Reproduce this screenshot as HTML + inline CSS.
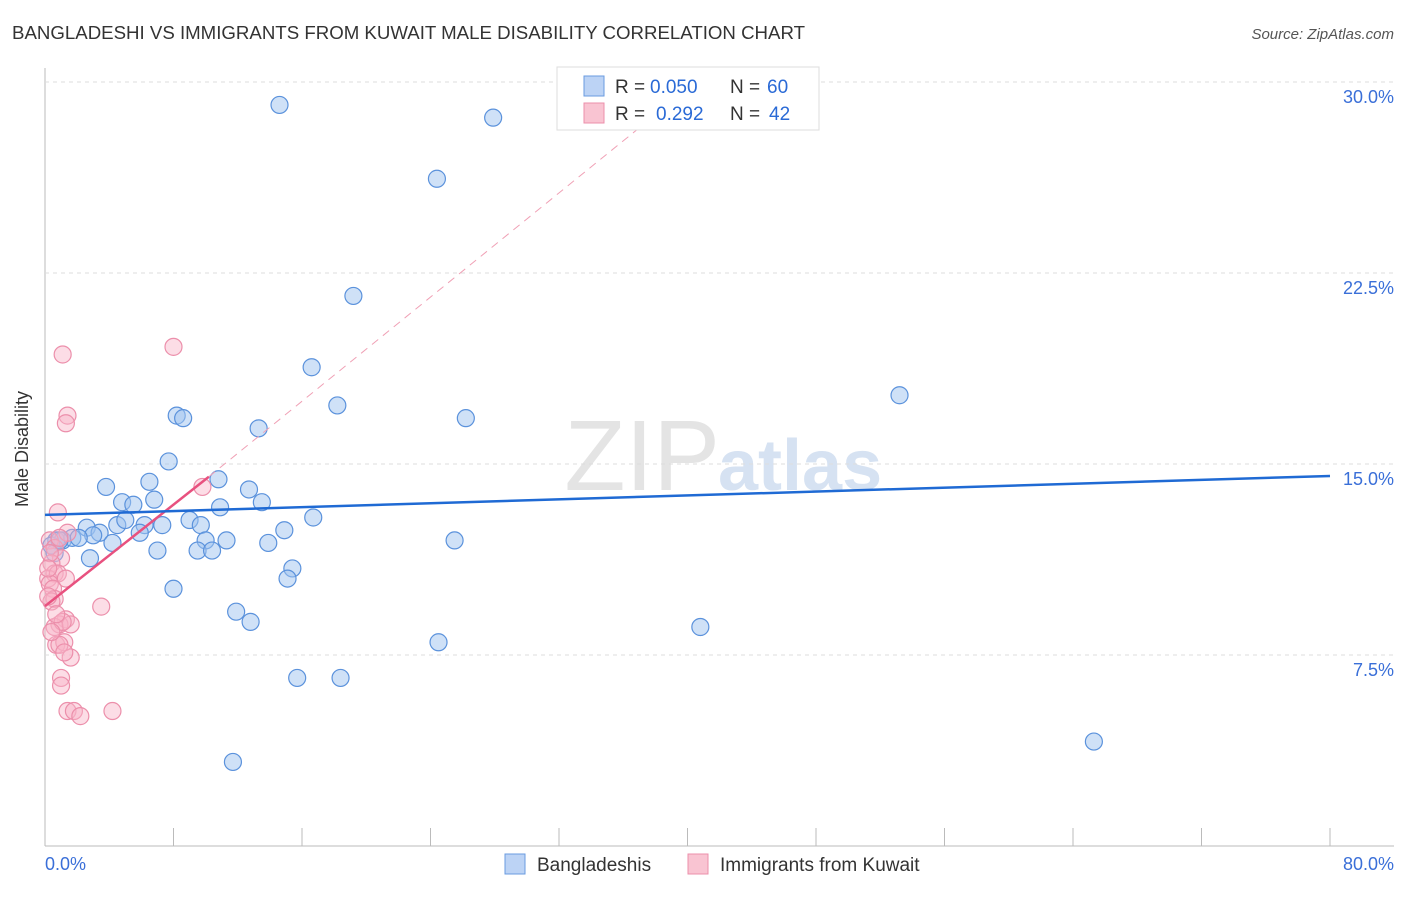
<!DOCTYPE html>
<html><head><meta charset="utf-8"><style>
body{margin:0;background:#fff;font-family:"Liberation Sans",sans-serif;}
svg text{font-family:"Liberation Sans",sans-serif;}
</style></head><body>
<svg id="c" width="1406" height="892">
<text x="12" y="39" font-size="18" fill="#333" textLength="793" lengthAdjust="spacingAndGlyphs">BANGLADESHI VS IMMIGRANTS FROM KUWAIT MALE DISABILITY CORRELATION CHART</text>
<text x="1394" y="39" font-size="15" fill="#555" font-style="italic" text-anchor="end">Source: ZipAtlas.com</text>
<text x="720" y="490" font-size="100" fill="#e4e4e4" text-anchor="end" font-family="Liberation Serif">ZIP</text>
<text x="718" y="490" font-size="72" fill="#d6e2f2" font-weight="bold">atlas</text>
<g id="grid"></g><g id="marks"></g>
<text x="34" y="455" font-size="18" fill="#333" text-anchor="middle" transform="rotate(-90 28 455)">Male Disability</text>
<text x="45" y="870" font-size="18" fill="#3a6fd8">0.0%</text>
<text x="1394" y="870" font-size="18" fill="#3a6fd8" text-anchor="end">80.0%</text>
<g>
<rect x="557" y="67" width="262" height="63" fill="#fff" stroke="#ddd"/>
<rect x="584" y="76" width="20" height="20" fill="#bcd3f5" stroke="#6a9be0"/>
<rect x="584" y="103" width="20" height="20" fill="#f9c4d2" stroke="#ec8fab"/>
<text x="615" y="93" font-size="19" fill="#333">R =</text>
<text x="650" y="93" font-size="19" fill="#2a6ad6">0.050</text>
<text x="730" y="93" font-size="19" fill="#333">N =</text>
<text x="767" y="93" font-size="19" fill="#2a6ad6">60</text>
<text x="615" y="120" font-size="19" fill="#333">R =</text>
<text x="656" y="120" font-size="19" fill="#2a6ad6">0.292</text>
<text x="730" y="120" font-size="19" fill="#333">N =</text>
<text x="769" y="120" font-size="19" fill="#2a6ad6">42</text>
</g>
<g>
<rect x="505" y="854" width="20" height="20" fill="#bcd3f5" stroke="#6a9be0"/>
<text x="537" y="871" font-size="19" fill="#333">Bangladeshis</text>
<rect x="688" y="854" width="20" height="20" fill="#f9c4d2" stroke="#ec8fab"/>
<text x="720" y="871" font-size="19" fill="#333">Immigrants from Kuwait</text>
</g>
</svg>
<script>
const yTicks=[7.5,15,22.5,30];
const xTicks=[0,8,16,24,32,40,48,56,64,72,80];
const blueX=[14.6,27.9,24.4,19.2,16.6,53.2,18.2,8.2,8.6,26.2,13.3,7.7,3.8,6.5,10.8,12.7,4.8,5.5,6.8,13.5,10.9,16.7,2.6,3.4,4.5,5.0,6.2,7.3,9.0,9.7,14.9,5.9,3.0,4.2,0.7,1.1,1.7,2.1,10.0,11.3,13.9,25.5,7.0,9.5,10.4,2.8,15.4,15.1,8.0,11.9,12.8,40.8,24.5,15.7,18.4,65.3,11.7,0.4,0.6,0.9];
const blueY=[29.1,28.6,26.2,21.6,18.8,17.7,17.3,16.9,16.8,16.8,16.4,15.1,14.1,14.3,14.4,14.0,13.5,13.4,13.6,13.5,13.3,12.9,12.5,12.3,12.6,12.8,12.6,12.6,12.8,12.6,12.4,12.3,12.2,11.9,12.0,12.0,12.1,12.1,12.0,12.0,11.9,12.0,11.6,11.6,11.6,11.3,10.9,10.5,10.1,9.2,8.8,8.6,8.0,6.6,6.6,4.1,3.3,11.8,11.5,12.0];
const pinkX=[1.1,8.0,1.4,1.3,9.8,0.8,1.4,0.3,0.6,1.0,0.4,0.6,0.2,0.8,1.3,0.3,0.5,3.5,0.6,1.3,0.9,0.6,1.6,1.1,0.7,1.2,0.9,1.6,1.0,1.0,1.4,1.8,2.2,4.2,0.3,0.4,0.2,0.7,0.4,0.2,0.9,1.2];
const pinkY=[19.3,19.6,16.9,16.6,14.1,13.1,12.3,12.0,11.7,11.3,11.1,10.7,10.5,10.7,10.5,10.3,10.1,9.4,9.7,8.9,8.7,8.6,8.7,8.8,7.9,8.0,7.9,7.4,6.6,6.3,5.3,5.3,5.1,5.3,11.5,9.6,10.9,9.1,8.4,9.8,12.1,7.6];
const blueTrend=[0,13.0,80,14.53];
const pinkTrend=[0,9.42,10.2,14.5,37,28.2];
const X=v=>45+v/80*1285, Y=v=>846-v/7.5*191;
const NS='http://www.w3.org/2000/svg';
const g=document.getElementById('grid'), m=document.getElementById('marks');
function mk(p,tag,a){const e=document.createElementNS(NS,tag);for(const k in a)e.setAttribute(k,a[k]);p.appendChild(e);return e;}
const ax=mk(g,'line',{x1:45,y1:68,x2:45,y2:846,stroke:'#bbb'});


const bx=mk(g,'line',{x1:45,y1:846,x2:1394,y2:846,stroke:'#bbb'});


yTicks.forEach(t=>{
 const l=mk(g,'line',{x1:45,y1:Y(t),x2:1394,y2:Y(t),stroke:'#ddd','stroke-dasharray':'4,4'});
 
 
 const tx=mk(g,'text',{x:1394,y:Y(t)+21,'font-size':18,fill:'#3a6fd8','text-anchor':'end'});
 tx.textContent=t.toFixed(1)+'%';
 
 
});
xTicks.forEach(t=>{
 const l=mk(g,'line',{x1:X(t),y1:828,x2:X(t),y2:846,stroke:'#bbb'});
 
 
});
blueX.forEach((v,i)=>{
 const c=mk(m,'circle',{cx:X(v),cy:Y(blueY[i]),r:8.5,fill:'rgba(160,195,240,0.5)',stroke:'#5b92dc','stroke-width':1.2});
 
 
});
pinkX.forEach((v,i)=>{
 const c=mk(m,'circle',{cx:X(v),cy:Y(pinkY[i]),r:8.5,fill:'rgba(248,180,200,0.45)',stroke:'#ec8fab','stroke-width':1.2});
 
 
});
const pd=mk(m,'line',{x1:X(pinkTrend[2]),y1:Y(pinkTrend[3]),x2:X(pinkTrend[4]),y2:Y(pinkTrend[5]),stroke:'#f0a0b5','stroke-width':1,'stroke-dasharray':'8,6'});


const ps=mk(m,'line',{x1:X(pinkTrend[0]),y1:Y(pinkTrend[1]),x2:X(pinkTrend[2]),y2:Y(pinkTrend[3]),stroke:'#e8517f','stroke-width':2.5});


const bl=mk(m,'line',{x1:X(blueTrend[0]),y1:Y(blueTrend[1]),x2:X(blueTrend[2]),y2:Y(blueTrend[3]),stroke:'#1f6ad4','stroke-width':2.5});


</script>
</body></html>
